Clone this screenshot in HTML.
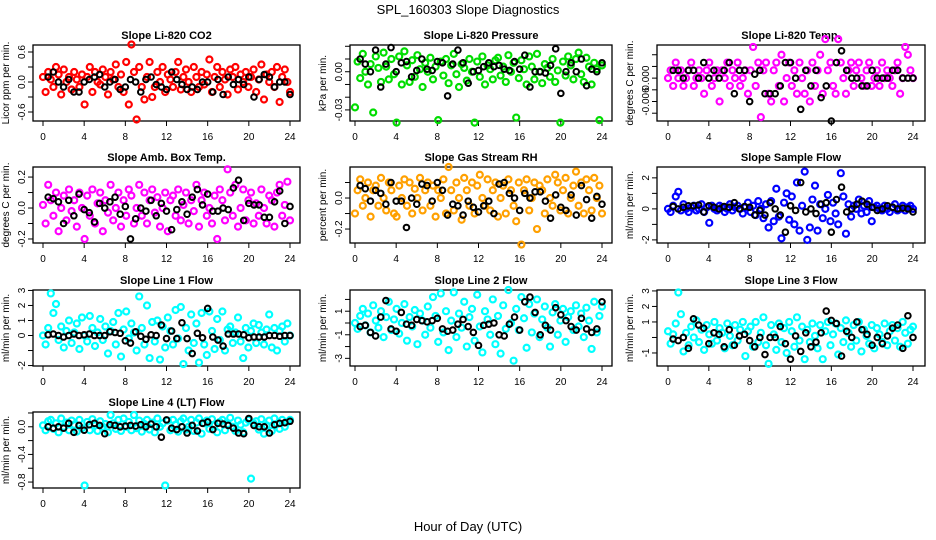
<!DOCTYPE html>
<html><head><meta charset="utf-8"><style>
html,body{margin:0;padding:0;background:#fff;}
svg{display:block;font-family:"Liberation Sans",Arial,sans-serif;}
</style></head><body>
<svg id="chart" width="936" height="540" viewBox="0 0 936 540" xmlns="http://www.w3.org/2000/svg">
<text x="468" y="14" text-anchor="middle" font-size="13">SPL_160303  Slope Diagnostics</text>
<text x="468" y="531" text-anchor="middle" font-size="13">Hour of Day (UTC)</text>
</svg>
<script>
const co2Vals=[0.1,-0.2,0.2,0.05,-0.1,0.3,0.15,-0.25,0.25,0.0,0.1,-0.15,0.2,0.05,-0.1,0.15,-0.45,0.1,0.3,-0.2,0.2,0.0,-0.05,0.25,0.1,-0.25,0.2,0.05,0.35,-0.1,0.15,-0.2,0.4,-0.45,0.75,0.2,-0.75,0.3,-0.1,-0.35,0.1,0.4,-0.3,-0.1,0.2,0.0,0.3,-0.2,0.15,0.05,-0.1,0.2,0.4,-0.15,0.1,0.25,0.0,-0.2,0.3,0.1,-0.1,0.2,-0.05,0.15,0.45,-0.2,0.1,0.3,-0.1,0.2,0.05,-0.25,0.25,0.1,0.3,-0.15,0.15,0.0,0.2,-0.1,0.1,0.25,-0.2,0.05,0.35,-0.35,0.15,0.0,0.2,-0.1,0.3,-0.4,0.1,0.25,0.0,-0.2];
const co2Black=[0.1,0.2,0.0,-0.1,0.05,-0.2,-0.2,0.0,0.05,0.1,0.15,-0.1,0.0,0.05,-0.15,-0.1,0.05,0.0,-0.2,0.05,0.1,-0.05,-0.1,-0.15,0.2,0.05,-0.05,-0.15,-0.1,-0.15,0.0,0.0,-0.2,0.05,-0.25,0.1,-0.05,0.05,-0.05,0.1,-0.3,0.05,0.15,0.1,-0.1,0.0,0.0,-0.25];
const presVals=[-0.028,0.008,-0.005,0.014,0.0,-0.01,0.006,-0.032,0.012,0.003,-0.008,0.015,0.004,-0.006,0.01,-0.002,-0.04,0.012,-0.01,0.016,0.005,-0.008,0.009,-0.004,0.013,0.002,-0.012,0.007,0.0,0.011,-0.006,0.004,-0.038,0.008,-0.003,0.01,-0.009,0.005,0.014,-0.002,-0.012,0.006,0.003,-0.007,0.01,0.0,-0.04,0.008,-0.004,0.012,-0.01,0.005,0.002,-0.006,0.009,0.011,-0.003,0.004,-0.008,0.013,0.0,0.007,-0.036,-0.005,0.009,0.002,-0.01,0.012,0.004,-0.006,0.014,0.0,-0.009,0.006,0.003,-0.004,0.01,-0.008,0.001,-0.04,0.008,-0.003,0.012,0.005,-0.006,0.01,0.015,-0.002,-0.008,0.011,0.004,-0.01,0.007,0.002,-0.038,0.005];
const presBlack=[0.01,0.006,0.0,0.017,-0.012,0.006,0.019,0.0,0.007,0.008,-0.004,0.001,0.01,0.002,0.001,0.008,0.007,-0.019,0.006,0.017,0.007,-0.009,0.0,0.001,0.004,0.007,0.004,0.005,0.002,0.001,0.008,0.002,0.013,-0.012,0.0,0.0,-0.001,0.005,0.018,-0.017,0.0,0.007,0.0,0.01,-0.011,0.002,0.0,0.007];
const tempVals=[0,0.002,-0.002,0.004,0,0.002,-0.002,0,0.002,0.004,-0.002,0,0.002,0,-0.004,0.002,0.004,-0.002,0,0.002,-0.006,0.002,0,0.004,-0.002,0.002,0,0.004,-0.002,0,0.002,-0.004,0.002,0.008,-0.002,0.004,-0.01,0.002,0.004,-0.004,-0.006,0.002,0.004,-0.002,0.006,-0.006,0,0.004,-0.002,0.002,-0.004,0.004,0,-0.004,0.002,-0.006,0.004,-0.002,0.002,0.006,-0.004,0.01,0.002,0.004,-0.002,-0.004,0.01,0.004,0,-0.004,0.002,0.004,-0.002,0.002,0.004,0,-0.002,0.002,0.004,-0.002,0,0.002,-0.002,0.004,0,0.002,0,-0.002,0.002,0.004,-0.004,0,0.008,0.006,0.002,0];
const tempBlack=[0.002,0.002,0,0.002,0.002,0,0.004,0,0.002,0,0.002,0.004,-0.004,0.002,0.002,-0.006,0.001,0.002,-0.004,-0.004,-0.004,-0.002,0.004,0.004,0,-0.008,0.002,-0.002,0.002,-0.005,-0.002,-0.011,0.004,0.007,0.002,0,0,-0.002,-0.002,0.002,0,0,0,0.002,0.002,0,0,0];
const ambVals=[0.02,-0.1,0.15,0.05,-0.05,0.1,-0.15,0.0,0.08,-0.08,0.12,-0.02,0.05,-0.12,0.1,0.0,-0.2,0.08,-0.05,0.12,-0.1,0.03,0.1,-0.15,0.05,-0.03,0.15,-0.08,0.0,0.1,-0.12,0.05,-0.05,0.12,0.08,-0.1,0.0,0.15,-0.05,0.1,-0.1,0.05,0.12,-0.03,0.07,-0.12,0.0,0.1,-0.15,0.05,0.08,-0.05,0.12,-0.08,0.02,0.1,-0.1,0.05,-0.02,0.15,-0.12,0.05,0.1,-0.05,0.0,-0.1,0.08,-0.2,0.12,0.05,-0.08,0.25,0.1,-0.05,0.15,-0.12,0.0,0.12,-0.08,0.05,0.1,-0.1,0.03,-0.05,0.12,0.0,-0.1,0.08,0.05,-0.12,0.1,0.15,-0.05,0.02,0.17,-0.08];
const ambBlack=[0.07,0.06,0.04,-0.1,0.05,-0.05,0.09,-0.01,-0.03,-0.09,0.03,0.0,0.04,0.07,-0.04,0.01,-0.2,-0.07,0.0,-0.02,0.05,-0.05,0.03,-0.02,-0.14,-0.01,0.04,-0.04,0.07,0.12,0.02,0.09,-0.02,-0.02,0.0,-0.01,0.13,0.18,-0.08,0.03,0.02,0.02,-0.06,-0.06,0.04,0.11,-0.1,0.01];
const rhVals=[-0.1,0.05,0.12,-0.05,0.0,0.1,-0.12,0.05,0.08,-0.05,0.13,0.0,-0.08,0.1,0.05,-0.1,-0.12,0.08,0.0,0.12,-0.05,0.1,-0.1,0.06,0.0,0.13,-0.08,0.05,0.1,-0.05,0.08,-0.12,0.05,0.0,0.12,-0.1,0.2,0.05,-0.08,0.1,0.0,-0.14,0.13,0.05,-0.05,0.1,-0.1,0.08,0.15,0.0,-0.05,0.12,-0.08,0.05,0.1,-0.12,0.0,0.08,-0.1,0.12,0.05,-0.05,-0.15,0.1,-0.3,0.05,0.12,-0.08,0.0,0.1,-0.2,0.08,0.05,-0.1,0.12,0.0,-0.05,0.15,0.1,-0.08,0.05,0.13,-0.1,0.0,0.08,0.17,-0.05,0.1,-0.1,0.12,0.05,-0.08,0.13,0.0,0.08,-0.1];
const rhBlack=[0.08,0.06,-0.02,0.05,0.03,-0.04,0.1,-0.02,-0.02,-0.19,0.0,-0.04,0.09,0.08,-0.02,0.1,0.05,-0.11,-0.04,-0.05,-0.11,-0.02,-0.06,-0.09,-0.05,-0.02,-0.1,0.09,0.1,0.03,0.0,-0.08,0.03,0.0,0.04,0.04,-0.02,-0.13,0.02,-0.06,-0.08,0.02,-0.11,0.08,-0.01,-0.13,0.01,-0.04];
const sampVals=[0.0,-0.2,0.2,0.8,1.1,-0.1,0.3,0.0,-0.2,0.1,0.2,-0.1,0.0,0.3,-0.2,0.1,-0.9,0.2,0.0,-0.1,0.2,0.1,-0.2,0.0,0.3,-0.1,0.1,0.2,0.0,-0.3,0.1,0.4,-0.2,0.2,-0.4,0.5,0.0,-0.6,0.3,-1.2,0.5,-0.8,1.3,-0.5,-1.9,0.4,1.0,-0.7,0.8,-1.0,1.7,-1.4,0.2,2.4,-2.0,-1.2,0.6,1.5,-1.4,0.3,-0.6,0.0,0.9,-0.8,0.4,-0.3,-1.0,2.3,0.8,-1.6,0.3,-0.5,0.2,0.0,0.6,-0.3,0.2,-0.2,0.5,-0.8,0.1,0.2,0.0,-0.1,0.2,0.0,-0.2,0.1,0.3,-0.1,0.0,0.2,-0.1,0.1,0.2,0.0];
const sampBlack=[0.15,0.0,0.1,0.2,0.2,0.25,-0.2,0.2,0.1,0.0,0.15,0.1,0.4,0.0,0.15,0.1,-0.4,-0.1,-0.4,0.4,0.0,-0.4,-1.5,0.2,-0.1,1.7,-0.2,0.0,-0.3,0.3,0.4,-1.5,0.6,1.4,-0.2,0.0,0.3,0.5,0.3,0.1,-0.1,0.0,0.2,0.1,0.0,0.05,0.0,-0.2];
const l1Vals=[0.0,-0.6,0.5,2.8,1.5,2.1,-0.3,0.6,-0.8,0.3,1.0,-0.5,0.2,0.8,-0.9,1.2,0.0,-0.4,1.3,0.5,-0.7,0.2,1.1,-0.3,0.6,-1.2,0.3,0.9,-0.6,1.5,-1.4,0.4,1.6,-0.2,0.8,0.2,-1.0,2.6,0.5,-0.6,2.0,-1.5,0.9,-0.4,1.0,-1.6,0.6,-0.8,1.2,0.3,-0.6,1.7,-0.2,1.9,-1.9,0.5,-1.0,1.4,-0.5,0.8,-1.8,1.5,-0.6,-1.3,1.6,0.3,-0.9,1.1,-0.3,1.6,-1.0,0.4,0.6,-0.5,0.2,1.2,-0.4,-1.5,0.5,-0.8,0.3,0.8,-0.5,0.7,0.2,-0.6,0.4,1.4,-0.8,0.5,-1.0,0.3,0.6,-0.4,0.8,0.0];
const l1Black=[0.05,0.1,0.0,-0.1,0.0,0.1,0.0,0.05,0.1,0.0,0.0,0.0,0.25,0.2,0.15,-0.35,-0.5,0.25,-0.05,-0.25,0.05,0.0,0.7,-0.2,0.3,-0.2,0.85,-0.2,-1.2,0.15,-0.15,1.8,-0.1,-0.3,-0.7,0.1,0.1,0.1,0.05,-0.15,-0.1,-0.1,-0.1,0.0,0.0,-0.05,0.0,0.0];
const l2Vals=[0.0,-0.5,0.6,1.2,-0.2,0.8,-0.8,1.5,0.2,-0.4,1.0,-1.2,0.5,1.8,-0.6,0.3,1.2,-0.9,0.0,1.6,-1.5,0.5,-0.3,1.1,-1.8,0.8,0.2,-1.0,1.4,-0.4,2.2,0.6,-1.6,2.5,-0.8,1.0,-2.3,0.2,2.6,-1.2,0.8,-0.4,1.8,-2.0,0.5,1.2,-1.5,2.4,-0.3,-2.5,1.0,0.3,-1.0,2.0,-1.8,0.6,-2.6,1.5,-0.5,2.8,0.0,-3.2,1.2,-0.6,2.2,0.4,-2.1,1.6,-0.8,0.8,2.0,-1.2,0.3,1.4,-0.4,-2.0,0.9,1.6,-1.0,0.2,1.2,-1.6,0.5,1.0,-0.6,1.5,-0.3,0.8,-1.2,1.3,0.2,-2.2,1.8,-0.8,0.6,1.4];
const l2Black=[-0.3,-0.2,-0.8,-1.1,0.5,1.9,-0.5,-0.7,0.9,-0.1,-0.2,0.3,0.2,0.1,0.2,0.4,-0.5,-0.7,-0.6,-0.1,0.3,-0.3,-0.8,-1.9,-0.2,-0.1,0.0,-1.0,-1.1,-0.1,0.5,-0.6,1.8,2.2,0.9,-1.0,-0.2,-0.6,1.3,0.7,0.2,-0.3,-0.6,0.4,-0.5,-0.8,-0.5,1.8];
const l3Vals=[0.4,-0.4,0.2,0.9,2.9,1.5,-0.9,0.3,-0.5,0.7,0.0,1.1,-0.3,0.5,-0.8,0.8,0.2,-0.4,1.0,-0.2,0.6,0.3,-0.7,0.9,0.1,-0.5,0.8,-0.2,0.5,1.0,-1.2,0.4,0.7,-0.6,1.0,-0.3,0.3,1.3,-0.5,-1.7,0.8,0.2,-0.8,0.9,-0.3,0.6,-1.0,1.0,0.4,-0.6,1.3,-0.2,0.7,-1.4,0.5,-0.3,0.9,0.1,-0.7,0.8,-1.4,0.4,1.0,-0.5,0.2,0.9,-1.1,0.6,-0.3,1.1,0.3,-0.6,0.8,-0.2,1.0,-0.9,0.5,0.1,-0.4,0.8,-0.7,0.6,0.2,-0.3,0.9,-0.5,0.4,0.8,-0.2,0.6,-0.6,1.0,0.3,-0.4,0.5,0.7];
const l3Black=[-0.1,-0.2,0.0,-0.7,1.2,0.8,0.6,-0.4,0.3,0.2,-0.6,0.5,-0.5,0.1,0.2,-0.2,-0.6,0.0,-1.1,0.0,0.0,0.7,-0.4,-1.4,0.1,-0.9,0.3,-0.6,-0.3,0.3,1.7,1.1,0.9,-1.2,0.4,0.0,1.0,0.5,0.2,-0.5,0.0,-0.4,0.1,0.6,0.8,-0.7,1.4,0.0];
const l4Vals=[0.02,-0.05,0.08,0.1,-0.03,0.05,-0.08,0.12,0.0,0.06,-0.05,0.09,0.03,-0.07,0.1,-0.02,-0.85,0.07,-0.05,0.11,0.02,-0.06,0.08,0.0,0.04,-0.08,0.17,0.05,-0.03,0.1,-0.06,0.12,0.0,0.07,-0.05,0.17,-0.02,0.09,-0.07,0.04,0.1,-0.04,0.06,-0.08,0.12,0.0,0.05,-0.85,0.09,-0.05,0.1,0.03,-0.07,0.08,0.12,-0.04,0.0,0.1,-0.06,0.06,0.12,-0.1,0.05,0.09,-0.03,0.11,0.02,-0.08,0.07,0.1,-0.05,0.04,0.13,0.0,-0.06,0.09,0.03,-0.08,0.06,0.1,-0.75,0.05,0.08,-0.04,0.11,-0.1,0.02,0.09,-0.06,0.12,0.04,-0.03,0.1,0.0,0.07,0.1];
const l4Black=[0.0,-0.02,0.0,-0.02,0.05,-0.08,0.02,-0.05,0.03,0.05,0.02,-0.1,0.03,0.02,0.0,0.01,0.02,0.01,0.03,0.0,0.04,0.0,-0.15,0.1,-0.02,-0.04,0.0,-0.09,0.02,-0.06,0.05,0.07,-0.04,0.05,0.04,0.02,-0.02,-0.09,-0.1,0.12,0.02,0.0,0.0,-0.09,0.03,0.05,0.06,0.08];
const xTickLabels=["0","4","8","12","16","20","24"];
const panelTitles=["Slope Li-820 CO2","Slope Li-820 Pressure","Slope Li-820 Temp.","Slope Amb. Box Temp.","Slope Gas Stream RH","Slope Sample Flow","Slope Line 1 Flow","Slope Line 2 Flow","Slope Line 3 Flow","Slope Line 4 (LT) Flow"];
const yTitles=["Licor ppm per min.","kPa per min.","degrees C per min.","degrees C per min.","percent per min.","ml/min per min.","ml/min per min.","ml/min per min.","ml/min per min.","ml/min per min."];
const yTicks=[[-0.6,-0.3,0,0.3,0.6],[-0.03,-0.02,-0.01,0,0.01,0.02],[-0.009,-0.006,-0.003,0,0.003,0.006],[-0.2,-0.1,0,0.1,0.2],[-0.2,-0.1,0,0.1],[-2,-1,0,1,2],[-2,-1,0,1,2,3],[-3,-2,-1,0,1,2],[-1,0,1,2,3],[-0.8,-0.6,-0.4,-0.2,0,0.2]];
const yTickLabels=[["-0.6","","0.0","","0.6"],["-0.03","","","0.00","",""],["","-0.006","","0.000","",""],["-0.2","","0.0","","0.2"],["-0.2","","0.0",""],["-2","","0","","2"],["-2","","0","1","2","3"],["-3","","-1","","1",""],["-1","","1","2","3"],["-0.8","","-0.4","","0.0",""]];

const panels=[
 {c:0,r:0,dom:[-0.78,0.74],col:"#ff0000",v:co2Vals,b:co2Black},
 {c:1,r:0,dom:[-0.0387,0.021],col:"#00dd00",v:presVals,b:presBlack},
 {c:2,r:0,dom:[-0.011,0.0085],col:"#ff00ff",v:tempVals,b:tempBlack},
 {c:0,r:1,dom:[-0.226,0.265],col:"#ff00ff",v:ambVals,b:ambBlack},
 {c:1,r:1,dom:[-0.29,0.2],col:"#ffa000",v:rhVals,b:rhBlack},
 {c:2,r:1,dom:[-2.2,2.7],col:"#0000ff",v:sampVals,b:sampBlack},
 {c:0,r:2,dom:[-2.03,3.03],col:"#00ffff",v:l1Vals,b:l1Black},
 {c:1,r:2,dom:[-3.65,2.8],col:"#00ffff",v:l2Vals,b:l2Black},
 {c:2,r:2,dom:[-1.84,3.06],col:"#00ffff",v:l3Vals,b:l3Black},
 {c:0,r:3,dom:[-0.886,0.214],col:"#00ffff",v:l4Vals,b:l4Black}
];
const colBox=[[33,300,43,290],[350,612,355,602],[657,925,668,913]];
const rowTop=[45,167,290,412], boxH=76;
const NS="http://www.w3.org/2000/svg";
const svg=document.getElementById("chart");
function mk(tag,attrs,parent){const e=document.createElementNS(NS,tag);for(const k in attrs)e.setAttribute(k,attrs[k]);(parent||svg).appendChild(e);return e;}
panels.forEach((p,pi)=>{
  const cb=colBox[p.c], top=rowTop[p.r], bot=top+boxH;
  const g=mk("g",{});
  
  
  const xs=h=>cb[2]+(cb[3]-cb[2])*h/24;
  const ys=v=>bot-(v-p.dom[0])/(p.dom[1]-p.dom[0])*boxH;
  const t=mk("text",{x:(cb[0]+cb[1])/2,y:top-6,"text-anchor":"middle","font-size":"11","font-weight":"bold"},g);
  t.textContent=panelTitles[pi];
  
  
  const yl=mk("text",{transform:`translate(${cb[0]-24},${(top+bot)/2}) rotate(-90)`,"text-anchor":"middle","font-size":"10"},g);
  yl.textContent=yTitles[pi];
  
  
  const xa=mk("g",{},g);
  
  
  xTickLabels.forEach(l=>{const h=+l;mk("line",{x1:xs(h),x2:xs(h),y1:bot,y2:bot+5,stroke:"#000"},xa);
    const tl=mk("text",{x:xs(h),y:bot+19,"text-anchor":"middle","font-size":"10"},xa);tl.textContent=l;
    
    });
  const ya=mk("g",{},g);
  
  
  const tk=yTicks[pi];
  tk.forEach((v,i)=>{mk("line",{x1:cb[0]-5,x2:cb[0],y1:ys(v),y2:ys(v),stroke:"#000"},ya);
    if(yTickLabels[pi][i]){const tl=mk("text",{transform:`translate(${cb[0]-8},${ys(v)}) rotate(-90)`,"text-anchor":"middle","font-size":"10"},ya);tl.textContent=yTickLabels[pi][i];
    
    }});
  const box=mk("rect",{x:cb[0],y:top,width:cb[1]-cb[0],height:boxH,fill:"none",stroke:"#000","stroke-width":1.3},g);
  
  
  const n=p.v.length;
  p.v.forEach((v,i)=>{const h=24*i/(n-1);
    const c=mk("circle",{cx:xs(h),cy:ys(v),r:3,fill:"none",stroke:p.col,"stroke-width":2.2},g);
    
    });
  const nb=p.b.length;
  p.b.forEach((v,i)=>{const h=0.5+23.5*i/(nb-1);
    const c=mk("circle",{cx:xs(h),cy:ys(v),r:2.8,fill:"none",stroke:"#000","stroke-width":2},g);
    
    });
});
</script>
</body></html>
